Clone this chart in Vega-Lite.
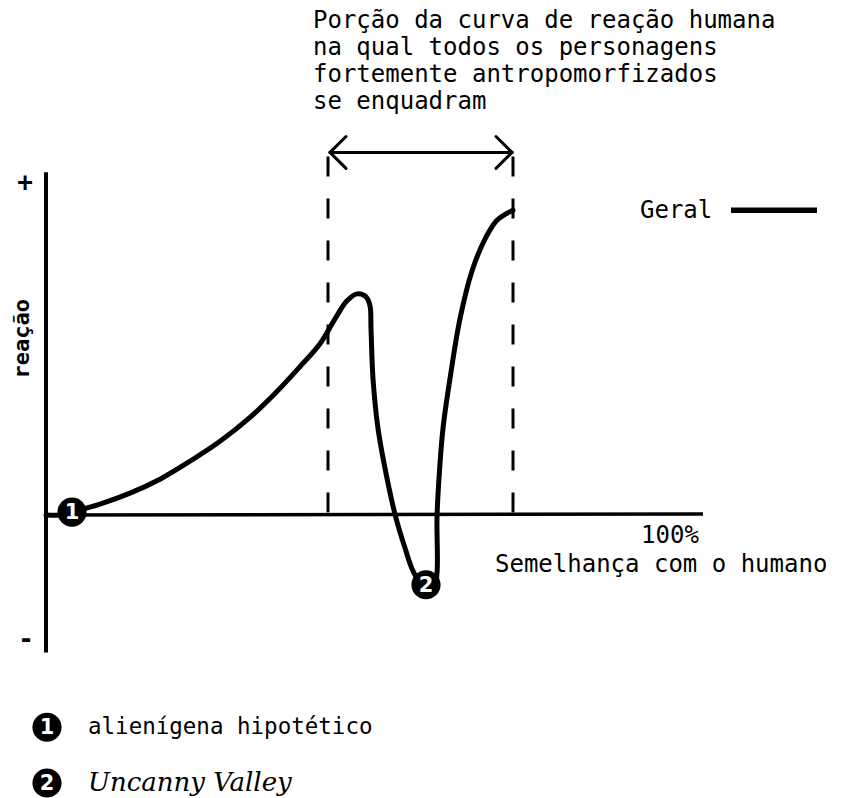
{
  "$schema": "https://vega.github.io/schema/vega-lite/v6.json",
  "width": 843,
  "height": 798,
  "autosize": {"type": "fit", "contains": "padding"},
  "padding": 0,
  "background": "white",
  "config": {"view": {"stroke": null}},
  "datasets": {
    "segs": [
      {"kind": "yaxis", "x": 46, "y": 173, "x2": 46, "y2": 655},
      {"kind": "xaxis", "x": 46, "y": 517, "x2": 703, "y2": 516},
      {"kind": "dash", "x": 328, "y": 157, "x2": 328, "y2": 520},
      {"kind": "dash", "x": 513, "y": 157, "x2": 513, "y2": 520},
      {"kind": "arrow", "x": 330, "y": 153, "x2": 512, "y2": 153},
      {"kind": "arrow", "x": 330, "y": 153, "x2": 346, "y2": 137},
      {"kind": "arrow", "x": 330, "y": 153, "x2": 346, "y2": 169},
      {"kind": "arrow", "x": 512, "y": 153, "x2": 496, "y2": 137},
      {"kind": "arrow", "x": 512, "y": 153, "x2": 496, "y2": 169},
      {"kind": "legend", "x": 731, "y": 211, "x2": 817, "y2": 211}
    ],
    "curve": [
      {"i": 1, "x": 46, "y": 517},
      {"i": 2, "x": 60, "y": 517},
      {"i": 3, "x": 72, "y": 514},
      {"i": 4, "x": 100, "y": 506},
      {"i": 5, "x": 130, "y": 495},
      {"i": 6, "x": 160, "y": 481},
      {"i": 7, "x": 190, "y": 463},
      {"i": 8, "x": 220, "y": 443},
      {"i": 9, "x": 250, "y": 419},
      {"i": 10, "x": 275, "y": 395},
      {"i": 11, "x": 300, "y": 368},
      {"i": 12, "x": 320, "y": 345},
      {"i": 13, "x": 335, "y": 320},
      {"i": 14, "x": 347, "y": 302},
      {"i": 15, "x": 357, "y": 295},
      {"i": 16, "x": 366, "y": 298},
      {"i": 17, "x": 370, "y": 307},
      {"i": 18, "x": 371, "y": 330},
      {"i": 19, "x": 373, "y": 380},
      {"i": 20, "x": 378, "y": 430},
      {"i": 21, "x": 387, "y": 480},
      {"i": 22, "x": 396, "y": 520},
      {"i": 23, "x": 405, "y": 550},
      {"i": 24, "x": 413, "y": 573},
      {"i": 25, "x": 424, "y": 590},
      {"i": 26, "x": 434, "y": 590},
      {"i": 27, "x": 437, "y": 575},
      {"i": 28, "x": 437, "y": 520},
      {"i": 29, "x": 439, "y": 480},
      {"i": 30, "x": 443, "y": 430},
      {"i": 31, "x": 450, "y": 380},
      {"i": 32, "x": 460, "y": 320},
      {"i": 33, "x": 472, "y": 272},
      {"i": 34, "x": 485, "y": 240},
      {"i": 35, "x": 497, "y": 221},
      {"i": 36, "x": 513, "y": 211}
    ],
    "badges": [
      {"x": 72, "y": 514, "label": "1"},
      {"x": 426, "y": 587, "label": "2"},
      {"x": 47, "y": 730, "label": "1"},
      {"x": 47, "y": 786, "label": "2"}
    ],
    "texts": [
      {"kind": "title", "x": 313, "y": 21, "text": "Porção da curva de reação humana"},
      {"kind": "title", "x": 313, "y": 48, "text": "na qual todos os personagens"},
      {"kind": "title", "x": 313, "y": 75, "text": "fortemente antropomorfizados"},
      {"kind": "title", "x": 313, "y": 102, "text": "se enquadram"},
      {"kind": "title", "x": 495, "y": 567, "text": "Semelhança com o humano"},
      {"kind": "title", "x": 640, "y": 212, "text": "Geral"},
      {"kind": "note", "x": 88, "y": 730, "text": "alienígena hipotético"},
      {"kind": "center", "x": 670, "y": 538, "text": "100%"},
      {"kind": "sign", "x": 25, "y": 184, "text": "+"},
      {"kind": "sign", "x": 26, "y": 642, "text": "-"},
      {"kind": "script", "x": 88, "y": 786, "text": "Uncanny Valley"},
      {"kind": "ylabel", "x": 22, "y": 340, "text": "reação"}
    ]
  },
  "encoding": {
    "x": {"field": "x", "type": "quantitative", "scale": {"domain": [0, 843]}, "axis": null},
    "y": {"field": "y", "type": "quantitative", "scale": {"domain": [0, 798], "reverse": true}, "axis": null}
  },
  "layer": [
    {
      "data": {"name": "segs"},
      "transform": [{"filter": "datum.kind === 'yaxis'"}],
      "mark": {"type": "rule", "color": "black", "strokeWidth": 4},
      "encoding": {"x2": {"field": "x2"}, "y2": {"field": "y2"}}
    },
    {
      "data": {"name": "segs"},
      "transform": [{"filter": "datum.kind === 'xaxis'"}],
      "mark": {"type": "rule", "color": "black", "strokeWidth": 3.5},
      "encoding": {"x2": {"field": "x2"}, "y2": {"field": "y2"}}
    },
    {
      "data": {"name": "segs"},
      "transform": [{"filter": "datum.kind === 'dash'"}],
      "mark": {"type": "rule", "color": "black", "strokeWidth": 3, "strokeDash": [20, 22]},
      "encoding": {"x2": {"field": "x2"}, "y2": {"field": "y2"}}
    },
    {
      "data": {"name": "segs"},
      "transform": [{"filter": "datum.kind === 'arrow'"}],
      "mark": {"type": "rule", "color": "black", "strokeWidth": 3, "strokeCap": "round"},
      "encoding": {"x2": {"field": "x2"}, "y2": {"field": "y2"}}
    },
    {
      "data": {"name": "segs"},
      "transform": [{"filter": "datum.kind === 'legend'"}],
      "mark": {"type": "rule", "color": "black", "strokeWidth": 5.5},
      "encoding": {"x2": {"field": "x2"}, "y2": {"field": "y2"}}
    },
    {
      "data": {"name": "curve"},
      "mark": {"type": "line", "color": "black", "strokeWidth": 5, "interpolate": "catmull-rom", "strokeCap": "round", "strokeJoin": "round"},
      "encoding": {"order": {"field": "i", "type": "quantitative"}}
    },
    {
      "data": {"name": "badges"},
      "mark": {"type": "point", "shape": "circle", "filled": true, "color": "black", "opacity": 1, "size": 850}
    },
    {
      "data": {"name": "badges"},
      "mark": {"type": "text", "color": "white", "font": "DejaVu Sans", "fontWeight": "bold", "fontSize": 21, "align": "center", "baseline": "middle", "dy": 1},
      "encoding": {"text": {"field": "label"}}
    },
    {
      "data": {"name": "texts"},
      "transform": [{"filter": "datum.kind === 'title'"}],
      "mark": {"type": "text", "color": "black", "font": "DejaVu Sans Mono", "fontSize": 24, "align": "left", "baseline": "middle"},
      "encoding": {"text": {"field": "text"}}
    },
    {
      "data": {"name": "texts"},
      "transform": [{"filter": "datum.kind === 'note'"}],
      "mark": {"type": "text", "color": "black", "font": "DejaVu Sans Mono", "fontSize": 22.5, "align": "left", "baseline": "middle"},
      "encoding": {"text": {"field": "text"}}
    },
    {
      "data": {"name": "texts"},
      "transform": [{"filter": "datum.kind === 'center'"}],
      "mark": {"type": "text", "color": "black", "font": "DejaVu Sans Mono", "fontSize": 24, "align": "center", "baseline": "middle"},
      "encoding": {"text": {"field": "text"}}
    },
    {
      "data": {"name": "texts"},
      "transform": [{"filter": "datum.kind === 'sign'"}],
      "mark": {"type": "text", "color": "black", "font": "DejaVu Sans Mono", "fontWeight": "bold", "fontSize": 26, "align": "center", "baseline": "middle"},
      "encoding": {"text": {"field": "text"}}
    },
    {
      "data": {"name": "texts"},
      "transform": [{"filter": "datum.kind === 'script'"}],
      "mark": {"type": "text", "color": "black", "font": "DejaVu Serif", "fontStyle": "italic", "fontSize": 26, "align": "left", "baseline": "middle"},
      "encoding": {"text": {"field": "text"}}
    },
    {
      "data": {"name": "texts"},
      "transform": [{"filter": "datum.kind === 'ylabel'"}],
      "mark": {"type": "text", "color": "black", "font": "DejaVu Sans Mono", "fontWeight": "bold", "fontSize": 22, "align": "center", "baseline": "middle", "angle": 270},
      "encoding": {"text": {"field": "text"}}
    }
  ]
}
